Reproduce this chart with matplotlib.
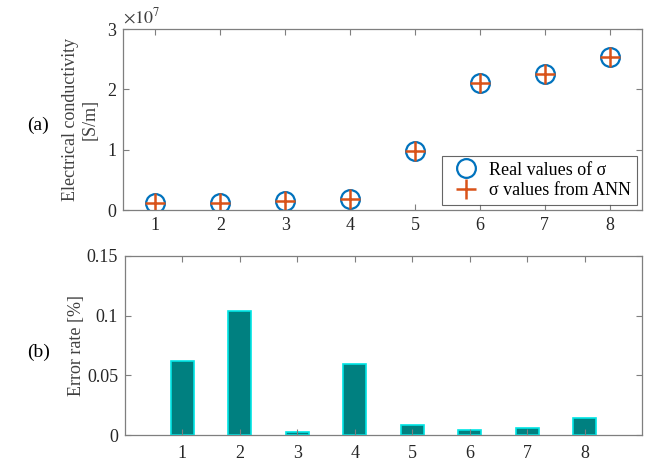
import matplotlib
matplotlib.use("Agg")
import matplotlib.pyplot as plt
import numpy as np

plt.rcParams['font.family'] = ['Liberation Serif', 'DejaVu Serif']
plt.rcParams['mathtext.fontset'] = 'stix'

samples = [1, 2, 3, 4, 5, 6, 7, 8]
sigma_real = [1.1e6, 1.1e6, 1.5e6, 1.8e6, 9.8e6, 2.11e7, 2.255e7, 2.54e7]
sigma_ann = [1.1e6, 1.1e6, 1.5e6, 1.8e6, 9.8e6, 2.11e7, 2.255e7, 2.54e7]
error_rate = [0.062, 0.104, 0.0023, 0.0595, 0.0084, 0.0045, 0.0059, 0.0142]

axcol = '#7f7f7f'
fs = 13

fig = plt.figure(figsize=(6.47, 4.62), dpi=100)
W, H = 647, 462
ax1 = fig.add_axes([123/W, 1-210/H, (642-123)/W, (210-29)/H])
ax2 = fig.add_axes([125/W, 1-435/H, (642-125)/W, (435-256)/H])

ax1.plot(samples, sigma_real, 'o', ms=13.5, mfc='none', mec='#0072BD', mew=1.6, label='Real values of σ')
ax1.plot(samples, sigma_ann, '+', ms=15, mec='#D95319', mew=1.8, label='σ values from ANN')
ax1.set_xlim(0.5, 8.5)
ax1.set_ylim(0, 3e7)
ax1.set_yticks([0, 1e7, 2e7, 3e7])
ax1.set_yticklabels(['0', '1', '2', '3'])
ax1.set_xticks(samples)
ax1.set_ylabel('Electrical conductivity\n[S/m]', fontsize=13, color='#404040', labelpad=6)
ax1.text(0.0, 1.01, r'$\times10^7$', transform=ax1.transAxes, fontsize=fs, color='#404040', ha='left', va='bottom')
leg = ax1.legend(loc='lower right', fontsize=13, frameon=True, fancybox=False, edgecolor='#404040',
                 borderpad=0.3, handletextpad=0.3, labelspacing=0.2, borderaxespad=0.3)
leg.get_frame().set_linewidth(0.8)

ax2.bar(samples, error_rate, width=0.4, color='#008080', edgecolor='#00E5E5', linewidth=1.2)
ax2.set_xlim(0, 9)
ax2.set_ylim(0, 0.15)
ax2.set_yticks([0, 0.05, 0.1, 0.15])
ax2.set_yticklabels(['0', '0.05', '0.1', '0.15'])
ax2.set_xticks(samples)
ax2.set_ylabel('Error rate [%]', fontsize=13, color='#404040', labelpad=1)

for ax in (ax1, ax2):
    for s in ax.spines.values():
        s.set_color(axcol)
        s.set_linewidth(0.9)
    ax.tick_params(direction='in', top=True, right=True, length=4, width=0.8, color=axcol,
                   labelsize=fs, labelcolor='#262626', pad=5)
ax2.tick_params(axis='x', pad=7)

fig.text(27/W, 1-125/H, '(a)', fontsize=14, ha='left', va='center')
fig.text(27/W, 1-352/H, '(b)', fontsize=14, ha='left', va='center')

fig.savefig('out.png', dpi=100)
